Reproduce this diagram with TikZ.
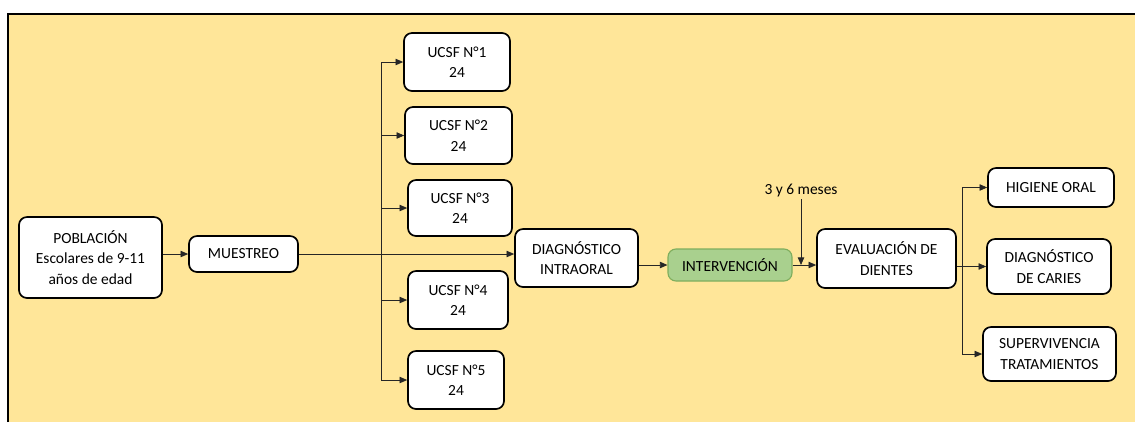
\documentclass[tikz,border=0pt]{standalone}
\usepackage{fontspec}
\setmainfont{Carlito}
\usepackage{xcolor}
\usepackage{tikz}
\usetikzlibrary{shapes, arrows.meta, positioning, calc}

\definecolor{panelyellow}{HTML}{FFE699}
\definecolor{boxgreen}{HTML}{A9D08E}
\definecolor{greenline}{HTML}{7FAE5E}

\begin{document}
\begin{tikzpicture}[
        stage/.style={rectangle, rounded corners=0.2cm, draw=black, line width=1.2pt, fill=white, align=center, inner sep=2pt, font=\fontsize{11}{14.6}\selectfont},
        label/.style={align=center, inner sep=1pt, font=\fontsize{11}{14.6}\selectfont},
        arrow/.style={-{Triangle[length=0.19cm, width=0.16cm]}, line width=0.6pt, draw=black!85}
    ]
    
    % Frame
    \useasboundingbox (0,0) rectangle (28.375,-10.55);
    \fill[white] (0,0) rectangle (28.375,-10.55);
    \fill[panelyellow] (0.2,-0.35) rectangle (28.375,-10.55);
    \draw[line width=1.5pt, black] (0.2,-10.55) -- (0.2,-0.35) -- (28.375,-0.35);
    
    % Stage 1: Poblacion y muestreo
    \node[stage, minimum width=3.575cm, minimum height=2.025cm] (pob) at (2.2625,-6.4375) {POBLACIÓN\\Escolares de 9-11\\años de edad};
    \node[stage, minimum width=2.725cm, minimum height=0.9cm] (muestreo) at (6.0875,-6.35) {MUESTREO};
    \draw[arrow] (pob.east |- muestreo.west) -- (muestreo.west);
    
    % Stage 2: UCSF
    \node[stage, minimum width=2.65cm, minimum height=1.45cm] (ucsf1) at (11.425,-1.55) {UCSF N°1\\24};
    \node[stage, minimum width=2.675cm, minimum height=1.425cm] (ucsf2) at (11.4625,-3.3875) {UCSF N°2\\24};
    \node[stage, minimum width=2.6cm, minimum height=1.4cm] (ucsf3) at (11.5,-5.2) {UCSF N°3\\24};
    \node[stage, minimum width=2.5cm, minimum height=1.45cm] (ucsf4) at (11.45,-7.5) {UCSF N°4\\24};
    \node[stage, minimum width=2.4cm, minimum height=1.45cm] (ucsf5) at (11.4,-9.5) {UCSF N°5\\24};
    \coordinate (trunk) at (9.525,-6.35);
    \draw[line width=0.6pt, draw=black!85] (trunk |- ucsf1.west) -- (trunk |- ucsf5.west);
    \foreach \u in {ucsf1, ucsf2, ucsf3, ucsf4, ucsf5}
        \draw[arrow] (trunk |- \u.west) -- (\u.west);
    
    % Stage 3: Diagnostico e intervencion
    \node[stage, minimum width=3.075cm, minimum height=1.45cm] (diag) at (14.4125,-6.45) {DIAGNÓSTICO\\INTRAORAL};
    \draw[arrow] (muestreo.east) -- (muestreo.east -| diag.west);
    \node[stage, draw=greenline, line width=0.8pt, fill=boxgreen, minimum width=3.1cm, minimum height=0.8cm] (interv) at (18.25,-6.625) {INTERVENCIÓN};
    \draw[arrow] (diag.east |- interv.west) -- (interv.west);
    
    % Stage 4: Evaluacion
    \node[stage, minimum width=3.475cm, minimum height=1.475cm] (eval) at (22.1625,-6.4625) {EVALUACIÓN DE\\DIENTES};
    \node[label] (meses) at (20.025,-4.775) {3 y 6 meses};
    \coordinate (join) at (interv.east -| meses);
    \draw[arrow] (interv.east) -- (interv.east -| eval.west);
    \draw[arrow] (meses.south) -- (join);
    
    % Stage 5: Resultados
    \node[stage, minimum width=3.15cm, minimum height=0.975cm] (higiene) at (26.275,-4.6875) {HIGIENE ORAL};
    \node[stage, minimum width=3.1cm, minimum height=1.375cm] (caries) at (26.225,-6.6625) {DIAGNÓSTICO\\DE CARIES};
    \node[stage, minimum width=3.325cm, minimum height=1.35cm] (superv) at (26.2375,-8.85) {SUPERVIVENCIA\\TRATAMIENTOS};
    \coordinate (rtrunk) at (24.05,-6.6);
    \draw[line width=0.6pt, draw=black!85] (rtrunk |- higiene.west) -- (rtrunk |- superv.west);
    \draw[arrow] (eval.east |- caries.west) -- (caries.west);
    \draw[arrow] (rtrunk |- higiene.west) -- (higiene.west);
    \draw[arrow] (rtrunk |- superv.west) -- (superv.west);
    
    \end{tikzpicture}
\end{document}
